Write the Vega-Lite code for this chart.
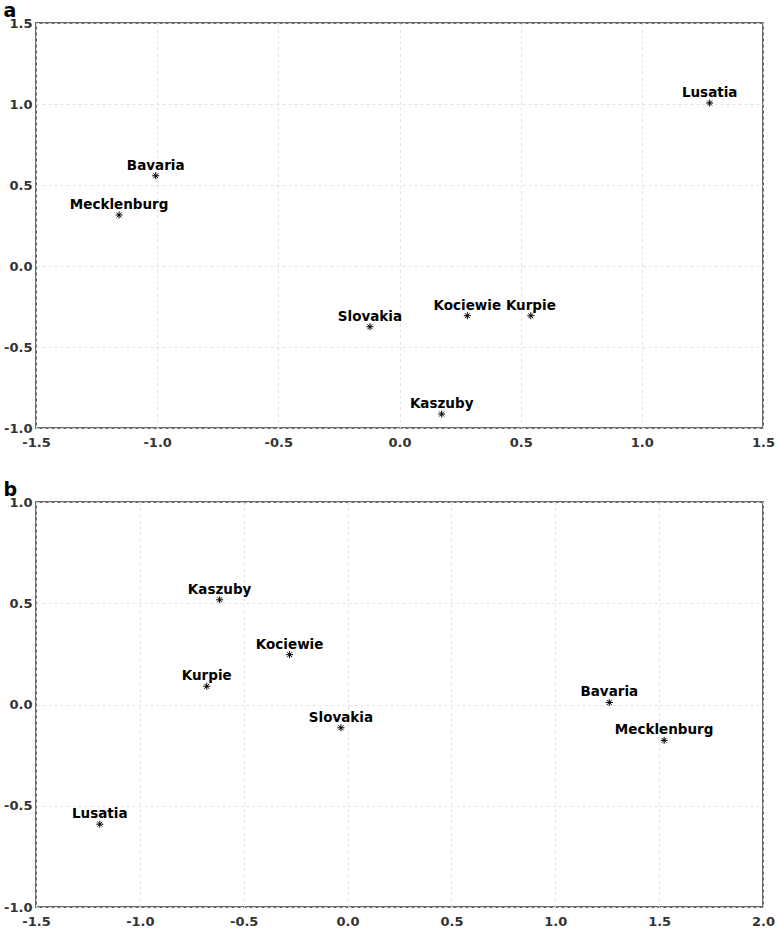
{
  "$schema": "https://vega.github.io/schema/vega-lite/v6.json",
  "background": "white",
  "padding": {"left": 2, "top": 1, "right": 0, "bottom": 4},
  "spacing": 30,
  "datasets": {
    "a": [
      {"region": "Lusatia", "x": 1.28, "y": 1.006},
      {"region": "Bavaria", "x": -1.006, "y": 0.557},
      {"region": "Mecklenburg", "x": -1.157, "y": 0.315},
      {"region": "Slovakia", "x": -0.122, "y": -0.375},
      {"region": "Kociewie", "x": 0.28, "y": -0.307},
      {"region": "Kurpie", "x": 0.542, "y": -0.307},
      {"region": "Kaszuby", "x": 0.174, "y": -0.914}
    ],
    "b": [
      {"region": "Kaszuby", "x": -0.616, "y": 0.517},
      {"region": "Kociewie", "x": -0.279, "y": 0.246},
      {"region": "Kurpie", "x": -0.678, "y": 0.09},
      {"region": "Bavaria", "x": 1.26, "y": 0.01},
      {"region": "Mecklenburg", "x": 1.524, "y": -0.177},
      {"region": "Slovakia", "x": -0.032, "y": -0.115},
      {"region": "Lusatia", "x": -1.193, "y": -0.591}
    ]
  },
  "config": {
    "locale": {"number": {"decimal": ".", "thousands": ",", "grouping": [3], "currency": ["$", ""], "minus": "-"}},
    "view": {"stroke": "#6a6a6a", "strokeWidth": 2},
    "axis": {
      "domain": false,
      "ticks": false,
      "grid": true,
      "gridColor": "#e2e2e2",
      "gridDash": [3, 3],
      "gridWidth": 1,
      "labelFont": "DejaVu Sans",
      "labelFontWeight": "bold",
      "labelFontSize": 13,
      "labelColor": "#333333",
      "labelFlush": false,
      "labelOverlap": false,
      "title": null
    },
    "axisX": {"labelPadding": 8},
    "axisY": {"labelPadding": 4},
    "title": {"font": "DejaVu Sans", "fontSize": 19, "fontWeight": "bold", "anchor": "start", "frame": "bounds", "color": "black", "baseline": "bottom", "offset": -4}
  },
  "vconcat": [
    {
      "title": "a",
      "width": 727,
      "height": 405,
      "data": {"name": "a"},
      "encoding": {
        "x": {"field": "x", "type": "quantitative", "scale": {"domain": [-1.5, 1.5], "nice": false, "zero": false}, "axis": {"values": [-1.5, -1, -0.5, 0, 0.5, 1, 1.5], "format": ".1f"}},
        "y": {"field": "y", "type": "quantitative", "scale": {"domain": [-1, 1.5], "nice": false, "zero": false}, "axis": {"values": [-1, -0.5, 0, 0.5, 1, 1.5], "format": ".1f"}}
      },
      "layer": [
        {"mark": {"type": "point", "shape": "M-1,0L1,0M0,-1L0,1M-0.7,-0.7L0.7,0.7M-0.7,0.7L0.7,-0.7", "size": 50, "filled": false, "stroke": "black", "strokeWidth": 1, "opacity": 1}},
        {"mark": {"type": "text", "dy": -10, "font": "DejaVu Sans", "fontWeight": "bold", "fontSize": 13.5, "color": "black"}, "encoding": {"text": {"field": "region"}}}
      ]
    },
    {
      "title": "b",
      "width": 727,
      "height": 405,
      "data": {"name": "b"},
      "encoding": {
        "x": {"field": "x", "type": "quantitative", "scale": {"domain": [-1.5, 2], "nice": false, "zero": false}, "axis": {"values": [-1.5, -1, -0.5, 0, 0.5, 1, 1.5, 2], "format": ".1f"}},
        "y": {"field": "y", "type": "quantitative", "scale": {"domain": [-1, 1], "nice": false, "zero": false}, "axis": {"values": [-1, -0.5, 0, 0.5, 1], "format": ".1f"}}
      },
      "layer": [
        {"mark": {"type": "point", "shape": "M-1,0L1,0M0,-1L0,1M-0.7,-0.7L0.7,0.7M-0.7,0.7L0.7,-0.7", "size": 50, "filled": false, "stroke": "black", "strokeWidth": 1, "opacity": 1}},
        {"mark": {"type": "text", "dy": -10, "font": "DejaVu Sans", "fontWeight": "bold", "fontSize": 13.5, "color": "black"}, "encoding": {"text": {"field": "region"}}}
      ]
    }
  ]
}
